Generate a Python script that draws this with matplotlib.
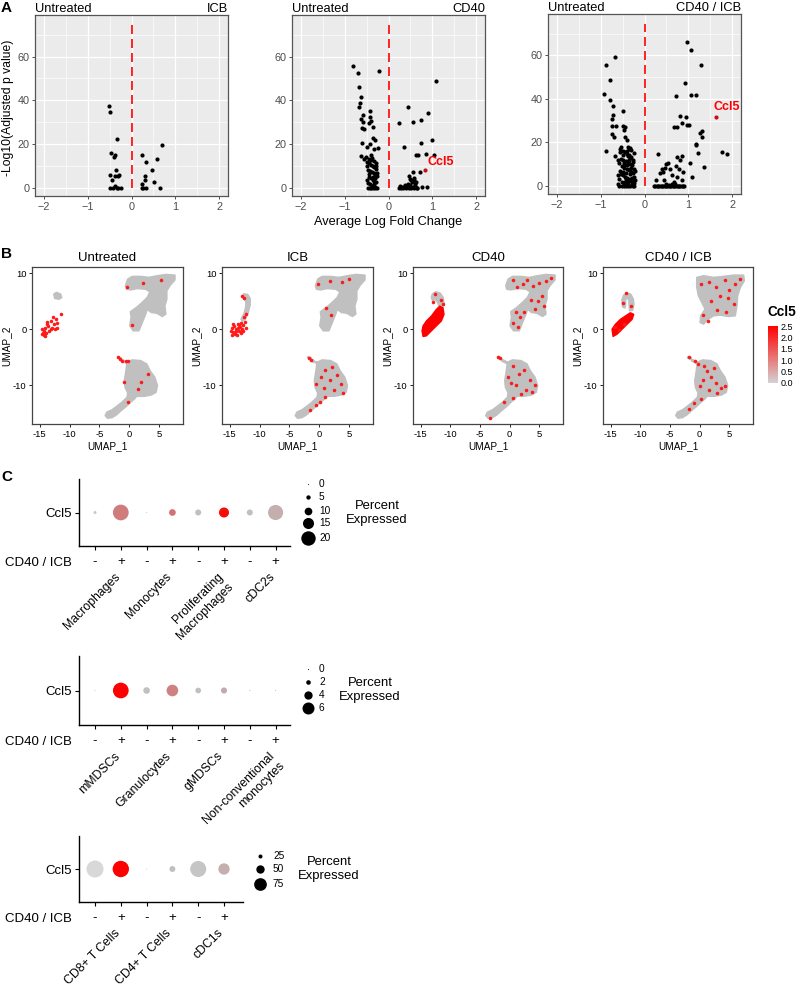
import numpy as np
import matplotlib
matplotlib.use("Agg")
import matplotlib.pyplot as plt
from matplotlib.colors import LinearSegmentedColormap, Normalize
from matplotlib.patches import Polygon
from matplotlib.transforms import blended_transform_factory

plt.rcParams["font.family"] = ["Liberation Sans", "DejaVu Sans"]

# ---------------- data ----------------
# A: volcano plots (avg log fold change, -log10 adj p)
icb_pts = [(-0.51, 37.2), (-0.48, 34.6), (-0.33, 22.3), (-0.46, 16.1), (-0.38, 14.9),
           (-0.41, 14.1), (-0.35, 8.1), (-0.49, 6.1), (-0.28, 6.1), (-0.37, 5.3),
           (-0.30, 5.3), (-0.44, 3.5), (-0.49, 0.0), (-0.38, 0.8), (-0.34, 0.0),
           (-0.30, 0.0), (-0.25, 0.0), (-0.42, 0.0),
           (0.25, 15.2), (0.32, 11.9), (0.69, 19.5), (0.58, 13.2), (0.46, 8.0),
           (0.31, 5.3), (0.30, 3.8), (0.25, 2.0), (0.51, 2.7), (0.64, 0.0),
           (0.26, 0.0), (0.32, 0.0), (0.23, 0.0)]

cd40_pts = [(-0.80, 55.7), (-0.70, 52.7), (-0.21, 53.3), (-0.67, 46.0), (-0.63, 41.5),
            (-0.64, 38.9), (-0.68, 37.1), (-0.58, 33.1), (-0.63, 31.5), (-0.43, 32.2),
            (-0.42, 35.1), (-0.39, 30.7), (-0.45, 29.5), (-0.35, 27.9), (-0.61, 27.2),
            (-0.55, 26.7), (-0.36, 22.6), (-0.31, 22.1), (-0.60, 20.6), (-0.42, 20.0),
            (-0.48, 18.8), (-0.25, 18.3), (-0.33, 18.0), (-0.63, 14.5), (-0.52, 14.2),
            (-0.55, 13.0), (-0.45, 13.4), (-0.39, 15.0), (-0.58, 30.2),
            (-0.48, 12.0), (-0.44, 11.2), (-0.40, 10.6), (-0.36, 10.0), (-0.32, 9.4),
            (-0.28, 8.8), (-0.46, 8.4), (-0.42, 7.8), (-0.38, 7.2), (-0.34, 6.6),
            (-0.30, 6.0), (-0.26, 5.4), (-0.44, 5.0), (-0.40, 4.4), (-0.36, 3.8),
            (-0.32, 3.2), (-0.28, 2.6), (-0.46, 2.2), (-0.42, 1.6), (-0.38, 1.0),
            (-0.34, 0.5), (-0.30, 0.2), (-0.26, 0.0), (-0.47, 0.0), (-0.43, 0.0),
            (-0.39, 0.0), (-0.35, 0.0), (-0.31, 0.0), (-0.50, 3.5), (-0.28, 11.5),
            (-0.32, 12.5), (-0.37, 13.5), (-0.50, 10.0), (-0.27, 7.0), (-0.30, 4.5),
            (-0.45, 6.5), (-0.33, 1.8), (-0.29, 9.8), (-0.41, 12.8), (-0.35, 5.2),
            (0.24, 29.5), (0.45, 37.1), (0.55, 30.2), (0.73, 30.8), (0.90, 34.4),
            (1.09, 48.9), (0.35, 18.9), (0.73, 20.3), (1.00, 22.0), (0.62, 15.0),
            (0.68, 15.0), (0.85, 15.7), (1.03, 15.0), (0.71, 7.3), (0.56, 7.2),
            (0.47, 5.5), (0.51, 3.8), (0.58, 4.6), (0.62, 2.7), (0.77, 0.2), (0.87, 0.5),
            (0.24, 0.0), (0.28, 0.0), (0.31, 0.5), (0.34, 0.0), (0.37, 1.2), (0.40, 0.0),
            (0.43, 0.6), (0.46, 0.0), (0.49, 1.4), (0.52, 0.0), (0.55, 0.4), (0.58, 0.0),
            (0.61, 0.9), (0.64, 0.0), (0.27, 1.0), (0.45, 1.6), (0.60, 2.0), (0.53, 2.8),
            (0.48, 4.0), (0.57, 3.5), (0.66, 0.0), (0.35, 0.3)]
cd40_ccl5 = (0.83, 8.4)

combo_pts = [(-0.87, 55.7), (-0.68, 59.2), (-0.78, 48.5), (-0.93, 42.3), (-0.79, 39.4),
             (-0.71, 36.6), (-0.49, 34.5), (-0.72, 32.5), (-0.74, 30.7), (-0.73, 27.5),
             (-0.66, 27.5), (-0.50, 27.6), (-0.45, 27.2), (-0.73, 23.7), (-0.69, 22.6),
             (-0.87, 16.2), (-0.68, 13.9), (-0.60, 11.9), (-0.46, 25.6), (-0.45, 22.6),
             (-0.41, 21.1), (-0.34, 17.3), (-0.37, 18.0), (-0.53, 18.0), (-0.56, 15.7),
             (-0.55, 17.0), (-0.50, 16.2), (-0.45, 15.5), (-0.40, 14.8), (-0.35, 14.0),
             (-0.30, 13.3), (-0.53, 12.6), (-0.48, 12.0), (-0.43, 11.4), (-0.38, 10.8),
             (-0.33, 10.2), (-0.28, 9.6), (-0.51, 9.0), (-0.46, 8.4), (-0.41, 7.8),
             (-0.36, 7.2), (-0.31, 6.6), (-0.26, 6.0), (-0.54, 5.4), (-0.49, 4.8),
             (-0.44, 4.2), (-0.39, 3.6), (-0.34, 3.0), (-0.29, 2.4), (-0.52, 1.8),
             (-0.47, 1.2), (-0.42, 0.6), (-0.37, 0.3), (-0.32, 0.0), (-0.27, 0.0),
             (-0.52, 0.0), (-0.47, 0.0), (-0.42, 0.0), (-0.37, 0.0), (-0.23, 0.0),
             (-0.57, 0.0), (-0.30, 16.5), (-0.25, 15.0), (-0.36, 17.2), (-0.27, 12.0),
             (-0.24, 8.0), (-0.24, 4.0), (-0.58, 10.5), (-0.56, 7.0), (-0.58, 3.0),
             (-0.25, 1.5), (-0.33, 5.5), (-0.40, 9.5), (-0.45, 2.0), (-0.35, 11.8),
             (-0.49, 14.0), (-0.31, 8.4), (-0.43, 5.8), (-0.28, 3.8), (-0.38, 1.6),
             (-0.50, 6.4), (-0.26, 10.8), (-0.32, 13.0), (-0.40, 16.0), (-0.29, 0.8),
             (-0.35, 2.2), (-0.44, 9.8), (-0.22, 2.8), (-0.22, 6.8), (-0.47, 10.6),
             (-0.60, 1.0), (-0.61, 5.0), (-0.38, 13.8), (-0.42, 3.2), (-0.33, 7.6),
             (0.96, 66.1), (1.06, 62.3), (1.28, 55.4), (0.92, 47.3), (0.71, 41.2),
             (1.05, 41.7), (1.17, 41.8), (0.81, 32.1), (0.94, 31.8), (0.98, 28.2),
             (1.02, 27.8), (0.67, 27.2), (0.73, 27.2), (0.85, 29.0), (1.26, 24.5),
             (1.30, 25.1), (1.32, 22.6), (1.18, 19.5), (1.18, 18.6), (1.21, 15.0),
             (1.36, 8.8), (1.04, 10.4), (1.09, 4.3), (1.76, 15.7), (1.88, 14.5),
             (0.31, 14.5), (0.39, 7.6), (0.35, 5.8), (0.46, 8.1), (0.54, 10.7),
             (0.50, 10.1), (0.43, 6.6), (0.58, 7.6), (0.71, 9.2), (0.75, 13.1),
             (0.81, 11.9), (0.85, 13.7), (0.87, 6.6), (0.73, 4.3), (0.68, 2.0),
             (0.85, 2.7), (0.27, 2.7), (0.45, 2.7), (0.62, 5.2), (0.78, 8.0),
             (0.22, 0.0), (0.25, 0.0), (0.28, 0.0), (0.31, 0.0), (0.34, 0.0), (0.37, 0.0),
             (0.40, 0.0), (0.43, 0.0), (0.46, 0.0), (0.49, 0.0), (0.52, 0.0), (0.55, 0.0),
             (0.58, 0.0), (0.61, 0.0), (0.64, 0.0), (0.67, 0.0), (0.70, 0.0), (0.73, 0.0),
             (0.76, 0.0), (0.79, 0.0), (0.82, 0.0), (0.85, 0.0), (0.88, 0.0), (0.91, 0.0),
             (0.50, 0.8), (0.56, 0.6), (0.62, 1.0), (0.70, 0.7)]
combo_ccl5 = (1.63, 31.8)

volcano_titles = ["ICB", "CD40", "CD40 / ICB"]

# B: UMAP cluster outlines (UMAP_1, UMAP_2)
top_cluster_arm = [(-0.64, 7.75), (-0.25, 8.93), (0.48, 9.41), (1.89, 9.41), (3.30, 9.23),
                   (4.71, 9.53), (6.11, 9.76), (7.64, 9.64), (7.64, 8.81), (6.85, 7.86),
                   (6.28, 6.86), (6.28, 5.37), (5.95, 4.19), (6.11, 2.70), (5.55, 2.29),
                   (4.59, 2.88), (3.69, 3.00), (3.02, 3.59), (2.74, 2.70), (2.17, 1.22),
                   (1.61, -0.26), (0.65, -0.26), (0.09, 0.63), (0.32, 2.11), (0.20, 3.12),
                   (1.22, 3.89), (2.17, 4.78), (3.02, 5.67), (3.47, 6.68), (2.74, 7.15),
                   (1.33, 7.27), (0.20, 7.03), (-0.47, 7.15)]
top_cluster_blob = [(-0.47, 9.23), (0.65, 9.53), (2.34, 9.23), (4.03, 9.41), (5.72, 9.64),
                    (7.41, 9.64), (7.52, 8.64), (6.85, 7.45), (6.40, 5.97), (6.28, 4.19),
                    (6.00, 2.41), (4.88, 2.29), (3.47, 2.53), (2.34, 2.41), (1.50, 1.81),
                    (0.65, 0.93), (0.09, 1.22), (0.20, 2.41), (0.93, 3.59), (0.37, 4.78),
                    (-0.19, 5.97), (-0.47, 7.45)]
bottom_cluster = [(-0.36, -5.90), (0.48, -5.48), (1.89, -5.60), (2.91, -6.19), (3.47, -7.38),
                  (4.26, -8.56), (4.71, -10.05), (4.48, -11.23), (3.69, -11.71), (2.45, -11.95),
                  (1.22, -11.95), (0.88, -12.42), (0.20, -13.01), (-0.47, -13.72), (-1.37, -14.50),
                  (-2.16, -15.27), (-2.89, -15.74), (-3.63, -15.86), (-4.02, -15.39), (-3.74, -14.79),
                  (-2.89, -14.38), (-2.05, -13.72), (-1.21, -13.01), (-0.36, -12.12), (-0.25, -11.35),
                  (-0.70, -10.34), (-0.81, -9.16), (-0.59, -7.68)]
streak_pts = [(-1.9, -5.0), (-1.6, -5.2), (-1.3, -5.5), (-1.0, -5.7), (-0.6, -5.8)]

left_gray_untreated = [(-12.64, 6.26), (-12.18, 6.56), (-11.51, 6.26), (-11.34, 5.67),
                       (-11.73, 5.37), (-12.47, 5.49)]
left_gray_icb = [(-12.7, 6.3), (-12.0, 6.2), (-11.6, 5.5), (-11.6, 4.3), (-11.9, 3.0),
                 (-12.4, 1.8), (-12.9, 1.4), (-13.1, 1.8), (-12.6, 2.8), (-12.3, 4.0),
                 (-12.3, 5.0), (-12.8, 5.6)]
left_gray_cd40 = [(-13.03, 6.26), (-12.47, 6.68), (-11.73, 6.44), (-11.23, 5.67), (-11.06, 4.48),
                  (-11.34, 3.89), (-11.90, 4.19), (-12.18, 4.90), (-12.64, 5.37), (-12.97, 5.08),
                  (-13.20, 5.67)]
left_gray_combo = [(-13.0, 4.0), (-13.1, 5.2), (-12.8, 6.1), (-12.2, 6.5), (-11.6, 6.2),
                   (-11.2, 5.4), (-11.1, 4.4), (-11.3, 3.4), (-11.8, 3.3), (-11.9, 4.4),
                   (-11.9, 5.2), (-12.2, 5.6), (-12.5, 5.3), (-12.5, 4.3), (-12.6, 3.8)]

red_blob_cd40 = [(-14.78, -0.29), (-14.60, 0.59), (-14.04, 1.47), (-13.20, 2.35), (-12.36, 3.53),
                 (-11.80, 4.12), (-11.24, 3.82), (-11.07, 2.65), (-11.52, 1.47), (-12.36, 0.59),
                 (-13.20, -0.29), (-14.04, -1.18), (-14.60, -1.29)]
red_blob_combo = [(-14.78, 0.0), (-14.21, 0.88), (-13.37, 1.76), (-12.53, 2.35), (-11.69, 2.94),
                  (-11.12, 2.65), (-11.40, 1.76), (-12.25, 0.88), (-13.09, 0.0), (-13.93, -0.88),
                  (-14.60, -1.29)]

red_untreated = [(-14.6, 0.0), (-14.44, -0.59), (-14.33, -1.06), (-14.04, 0.29), (-13.76, 0.88),
                 (-13.48, -0.29), (-14.21, -0.29), (-13.88, -0.71), (-13.65, 0.59), (-13.2, 0.0),
                 (-12.92, 0.29), (-12.75, 2.24), (-12.36, 1.76), (-12.08, 1.18), (-12.64, 0.88),
                 (-13.2, 1.47), (-11.52, 2.65), (-14.6, -0.88), (-14.04, -1.18), (-13.76, 1.29),
                 (-12.53, 0.0), (-12.19, 0.29),
                 (-0.45, 7.5), (5.34, 8.8), (0.45, 0.7), (2.25, 8.2),
                 (-1.85, -5.0), (-1.5, -5.3), (-1.2, -5.6), (-0.5, -5.7), (-0.2, -5.7),
                 (3.09, -7.9), (1.97, -9.4), (1.5, -10.6), (-0.84, -9.4), (-0.28, -12.9)]
red_icb = [(-14.7, 0.2), (-14.5, -0.5), (-14.3, 0.6), (-14.1, -0.9), (-13.9, 0.1), (-13.7, 0.9),
           (-13.5, -0.4), (-13.3, 0.4), (-13.1, 1.1), (-12.9, 0.0), (-12.7, 0.7), (-12.5, 1.3),
           (-14.6, -1.0), (-14.0, -0.3), (-13.6, 0.3), (-13.2, -0.6), (-12.8, -0.3), (-14.4, 1.0),
           (-12.3, 0.3), (-13.8, -1.0), (-12.6, 2.2), (-12.2, 2.8), (-12.6, 5.6), (-12.9, 5.9),
           (-14.2, -0.6), (-13.4, 0.8), (-13.0, -0.2), (-14.8, -0.3),
           (-0.2, 8.0), (3.8, 8.4), (5.0, 8.9), (1.8, 8.6), (1.2, 3.8), (2.0, 2.6),
           (-1.7, -5.1), (-1.4, -5.4), (1.0, -7.2), (2.2, -6.8), (0.3, -8.5), (1.8, -9.0),
           (3.0, -8.2), (-0.5, -9.8), (3.6, -9.8), (2.5, -10.8), (4.0, -11.3), (0.8, -10.5),
           (1.0, -12.0), (0.2, -13.0), (-0.5, -13.5), (-1.5, -14.4)]
red_cd40 = [(-12.6, 6.2), (-11.5, 5.3), (-13.0, 4.8), (-11.3, 4.5),
            (0.5, 8.8), (1.2, 7.6), (2.2, 8.0), (3.0, 8.8), (4.0, 7.8), (5.0, 8.2), (6.2, 8.6),
            (7.0, 9.2), (5.5, 6.0), (4.8, 5.0), (5.8, 4.2), (4.2, 3.6), (3.6, 5.3), (1.0, 3.0),
            (1.8, 2.2), (0.6, 1.2), (2.5, 3.0), (1.4, 0.4),
            (0.5, -6.5), (1.5, -8.0), (2.5, -7.2), (3.5, -9.0), (1.0, -10.0), (2.8, -10.8),
            (3.8, -11.2), (0.2, -9.5), (2.0, -11.5), (4.3, -10.0), (-0.3, -8.5),
            (-1.0, -13.0), (0.5, -12.3), (-3.3, -15.8), (-1.9, -5.0), (-1.7, -5.2)]
red_combo = [(-12.4, 6.4), (-11.5, 4.2), (-12.9, 4.6), (-13.6, -0.2), (-14.2, 0.4), (-12.8, 1.0),
             (0.2, 8.0), (1.5, 8.5), (2.8, 7.6), (4.2, 8.8), (5.0, 7.0), (6.0, 8.0), (3.5, 6.0),
             (4.8, 5.5), (2.0, 5.0), (5.8, 4.5), (3.0, 3.5), (0.6, 2.5), (1.4, 1.5), (4.5, 3.0),
             (6.8, 9.0), (-0.2, -6.2), (0.8, -6.6), (1.2, -7.5), (2.0, -8.5), (0.6, -9.0),
             (2.8, -9.6), (3.6, -10.5), (1.5, -10.8), (3.0, -11.3), (4.2, -10.2), (0.0, -10.2),
             (2.4, -7.0), (-1.8, -5.0), (-0.8, -5.6), (-1.0, -13.2), (-1.8, -14.2), (0.3, -12.5)]

umap_titles = ["Untreated", "ICB", "CD40", "CD40 / ICB"]
cbar_ticks = [0.0, 0.5, 1.0, 1.5, 2.0, 2.5]

# C: dot plots (percent expressed, scaled avg expression 0..1)
cats_1 = ["Macrophages", "Monocytes", "Proliferating\nMacrophages", "cDC2s"]
pct_1 = [3, 22, 0.3, 8.5, 7.5, 13.5, 7.5, 21]
avg_1 = [0.10, 0.65, 0.05, 0.68, 0.15, 0.97, 0.15, 0.35]
leg_1 = [0, 5, 10, 15, 20]

cats_2 = ["mMDSCs", "Granulocytes", "gMDSCs", "Non-conventional\nmonocytes"]
pct_2 = [0.1, 8.0, 3.1, 5.8, 2.6, 2.8, 0.2, 0.2]
avg_2 = [0.05, 1.0, 0.15, 0.62, 0.15, 0.38, 0.10, 0.10]
leg_2 = [0, 2, 4, 6]

cats_3 = ["CD8+ T Cells", "CD4+ T Cells", "cDC1s"]
pct_3 = [100, 96, 8, 36, 94, 67]
avg_3 = [0.0, 1.0, 0.05, 0.15, 0.12, 0.33]
leg_3 = [25, 50, 75]

# ---------------- figure ----------------
W, H = 797, 989
fig = plt.figure(figsize=(W / 100, H / 100), dpi=100)


def px_axes(l, t, r, b):
    return fig.add_axes([l / W, 1 - b / H, (r - l) / W, (b - t) / H])


GREY = "#C0C0C0"
umap_cmap = LinearSegmentedColormap.from_list("g2r", ["#D3D3D3", "#FF0000"])
dot_cmap = LinearSegmentedColormap.from_list(
    "dot", [(0.0, "#D8D8D8"), (0.15, "#C0C0C0"), (0.35, "#C4AEAE"), (0.65, "#D07C7C"), (1.0, "#FF0000")])

# ---- A: volcano ----
vol_boxes = [(35, 15, 228, 196), (292, 15, 485, 196), (548, 14, 741, 194)]
vol_data = [icb_pts, cd40_pts, combo_pts]
ccl5_pts = [None, cd40_ccl5, combo_ccl5]
ccl5_off = [None, (0.05, 0.8), (-0.06, 1.8)]

for i, box in enumerate(vol_boxes):
    ax = px_axes(*box)
    ax.set_facecolor("#EBEBEB")
    ax.set_xlim(-2.2, 2.2)
    ax.set_ylim(-3.7, 79)
    ax.set_xticks([-2, -1, 0, 1, 2])
    ax.set_xticklabels(["\u22122", "\u22121", "0", "1", "2"])
    ax.set_yticks([0, 20, 40, 60])
    ax.set_xticks([-1.5, -0.5, 0.5, 1.5], minor=True)
    ax.set_yticks([10, 30, 50, 70], minor=True)
    ax.grid(which="major", color="white", lw=0.9)
    ax.grid(which="minor", color="white", lw=0.45)
    ax.set_axisbelow(True)
    ax.tick_params(which="minor", length=0)
    ax.tick_params(which="major", length=2.5, width=0.6, color="#333333",
                   labelsize=7.8, labelcolor="#4D4D4D", pad=1.5)
    for s in ax.spines.values():
        s.set_color("#555555")
        s.set_linewidth(0.9)
    ax.plot([0, 0], [0, 74.5], color="red", lw=1.2, dashes=(5.4, 3), zorder=2)
    x, y = np.array(vol_data[i]).T
    ax.scatter(x, y, s=9, color="black", lw=0, zorder=3)
    if ccl5_pts[i] is not None:
        cx, cy = ccl5_pts[i]
        ax.scatter([cx], [cy], s=9, color="#C81010", lw=0, zorder=4)
        ax.text(cx + ccl5_off[i][0], cy + ccl5_off[i][1], "Ccl5", color="red",
                fontweight="bold", fontsize=9, ha="left", va="bottom")
    ax.set_title("Untreated", loc="left", fontsize=9.3, pad=2)
    ax.set_title(volcano_titles[i], loc="right", fontsize=9.3, pad=2)

fig.text(8 / W, 1 - 108 / H, "-Log10(Adjusted p value)", rotation=90, fontsize=8.7,
         ha="center", va="center")
fig.text(388 / W, 1 - 222 / H, "Average Log Fold Change", fontsize=9.2, ha="center", va="center")

# ---- B: UMAP ----
umap_boxes = [(32, 267, 183, 424), (222, 267, 373, 424), (413, 267, 563, 424), (603, 267, 753, 424)]
top_shapes = [top_cluster_arm, top_cluster_arm, top_cluster_arm, top_cluster_blob]
left_grays = [left_gray_untreated, left_gray_icb, left_gray_cd40, left_gray_combo]
red_blobs = [None, None, red_blob_cd40, red_blob_combo]
red_sets = [red_untreated, red_icb, red_cd40, red_combo]

for i, box in enumerate(umap_boxes):
    ax = px_axes(*box)
    ax.set_xlim(-16.3, 9.0)
    ax.set_ylim(-16.9, 11.1)
    for poly in (top_shapes[i], bottom_cluster, left_grays[i]):
        ax.add_patch(Polygon(np.array(poly), closed=True, fc=GREY, ec=GREY, lw=1.2,
                             joinstyle="round"))
    sx, sy = np.array(streak_pts).T
    ax.scatter(sx, sy, s=6, color=GREY, lw=0)
    if red_blobs[i] is not None:
        ax.add_patch(Polygon(np.array(red_blobs[i]), closed=True, fc="#FF0000", ec="#FF0000",
                             lw=1.0, joinstyle="round", zorder=3))
    rx, ry = np.array(red_sets[i]).T
    ax.scatter(rx, ry, s=6.5, color="#FF1A1A", lw=0, zorder=4)
    ax.set_xticks([-15, -10, -5, 0, 5])
    ax.set_xticklabels(["-15", "-10", "-5", "0", "5"])
    ax.set_yticks([-10, 0, 10])
    ax.set_yticklabels(["-10", "0", "10"])
    ax.tick_params(length=2.5, width=0.6, labelsize=6.8, pad=1.5)
    for s in ax.spines.values():
        s.set_color("#444444")
        s.set_linewidth(0.9)
    ax.set_xlabel("UMAP_1", fontsize=7.2, labelpad=2)
    ax.set_ylabel("UMAP_2", fontsize=7.2, labelpad=1)
    ax.set_title(umap_titles[i], fontsize=9.5, pad=4)

cax = px_axes(768, 326, 778, 383)
cb = fig.colorbar(plt.cm.ScalarMappable(norm=Normalize(0, 2.5), cmap=umap_cmap), cax=cax)
cb.outline.set_visible(False)
cb.set_ticks(cbar_ticks)
cb.set_ticklabels(["%.1f" % t for t in cbar_ticks])
cax.tick_params(length=0, labelsize=6.5, pad=2)
fig.text(768 / W, 1 - 312 / H, "Ccl5", fontsize=9.8, fontweight="bold", ha="left", va="center")


# ---- C: dot plots ----
def dot_size(p, a, b):
    d = max(a + b * p, 0.8)
    return (d * 0.72) ** 2


dot_specs = [
    ((79, 479, 290, 546), cats_1, pct_1, avg_1, (1.0, 0.67), leg_1, (308, 319, 377), [484, 497, 511, 523, 538], 513),
    ((79, 656, 290, 725), cats_2, pct_2, avg_2, (0.9, 1.85), leg_2, (308, 319, 370), [669, 682, 695, 708], 690),
    ((79, 836, 243, 902), cats_3, pct_3, avg_3, (-0.35, 0.174), leg_3, (260, 273, 329), [856, 869, 884], 869),
]

lay = fig.add_axes([0, 0, 1, 1])
lay.set_xlim(0, W)
lay.set_ylim(H, 0)
lay.axis("off")

for box, cats, pct, avg, (a, b), leg, (lx, ltx, pex), ly, pey in dot_specs:
    ax = px_axes(*box)
    n = len(pct)
    xs = np.arange(1, n + 1)
    sizes = [dot_size(p, a, b) for p in pct]
    ax.scatter(xs, [0.5] * n, s=sizes, c=avg, cmap=dot_cmap, vmin=0, vmax=1, lw=0)
    ax.set_xlim(1 - 16 / 25.8, n + (box[2] - (95 + 25.8 * (n - 1))) / 25.8)
    ax.set_ylim(0, 1)
    ax.spines["top"].set_visible(False)
    ax.spines["right"].set_visible(False)
    for s in ("left", "bottom"):
        ax.spines[s].set_linewidth(1.0)
    ax.set_yticks([0.5])
    ax.set_yticklabels(["Ccl5"], fontsize=9.5)
    ax.set_xticks(xs)
    ax.set_xticklabels(["-", "+"] * (n // 2), fontsize=9.5)
    ax.tick_params(length=3, width=0.8, pad=4.5)
    ax.tick_params(axis="y", pad=2)
    tr = blended_transform_factory(ax.transData, ax.transAxes)
    for j, cat in enumerate(cats):
        ax.annotate(cat, xy=(2 * j + 1.5, 0), xycoords=tr, xytext=(4.3, -18.0),
                    textcoords="offset points", rotation=45, ha="right", va="top",
                    rotation_mode="anchor", multialignment="right", fontsize=8.8)
    fig.text(72 / W, 1 - (box[3] + 17) / H, "CD40 / ICB", fontsize=9.5, ha="right", va="center")
    # size legend
    for v, yy in zip(leg, ly):
        lay.scatter([lx], [yy], s=dot_size(v, a, b), color="black", lw=0)
        lay.text(ltx, yy, str(v), fontsize=7.3, ha="left", va="center")
    lay.text(pex, pey, "Percent\nExpressed", fontsize=9.4, ha="center", va="center",
             linespacing=1.2)

lay.text(1, 8, "A", fontsize=11, fontweight="bold", ha="left", va="center")
lay.text(1, 254, "B", fontsize=11, fontweight="bold", ha="left", va="center")
lay.text(1, 477, "C", fontsize=11, fontweight="bold", ha="left", va="center")

fig.savefig("out.png", dpi=100)
